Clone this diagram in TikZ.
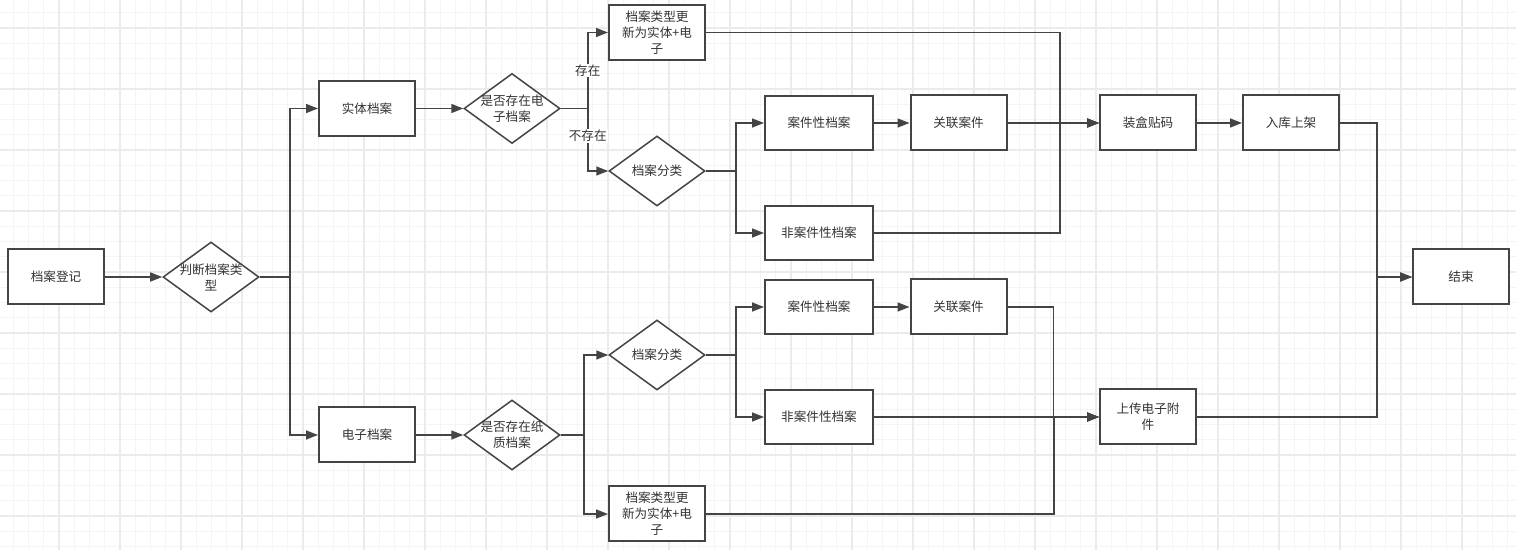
\documentclass[tikz,border=0pt]{standalone}
\usepackage{fontspec}
\setmainfont{Noto Sans CJK SC}
\usetikzlibrary{shapes.geometric,arrows.meta}
\definecolor{ink}{HTML}{444444}
\definecolor{txt}{HTML}{333333}
\definecolor{minorgrid}{HTML}{F4F4F4}
\definecolor{majorgrid}{HTML}{EBEBEB}
\tikzset{
  txtfont/.style={font=\fontsize{6.3}{8}\selectfont,text=txt},
  box/.style={draw=ink,line width=1pt,fill=white,minimum width=48pt,minimum height=27.5pt,inner sep=1pt,align=center,txtfont},
  widebox/.style={box,minimum width=54pt,minimum height=27pt},
  decision/.style={diamond,draw=ink,line width=0.75pt,fill=white,minimum width=48pt,minimum height=35pt,inner sep=0pt},
  dlabel/.style={align=center,txtfont,inner sep=0pt},
  flow/.style={draw=ink,line width=0.75pt,-{Triangle[length=6pt,width=4.5pt]}},
  yn/.style={fill=white,inner sep=0.5pt,txtfont}
}
\begin{document}
\begin{tikzpicture}[x=0.5pt,y=-0.5pt]
\useasboundingbox (0,0) rectangle (1516,550);
\begin{scope}
\clip (0,0) rectangle (1516,550);
\fill[white] (0,0) rectangle (1516,550);
\foreach \i in {0,...,100} \draw[minorgrid,line width=0.6pt] ({-2+15.25*\i},0) -- ++(0,550);
\foreach \i in {0,...,38} \draw[minorgrid,line width=0.6pt] (0,{-33+15.25*\i}) -- ++(1516,0);
\foreach \i in {0,...,25} \draw[majorgrid,line width=0.7pt] ({-2+61*\i},0) -- ++(0,550);
\foreach \i in {0,...,10} \draw[majorgrid,line width=0.7pt] (0,{-33+61*\i}) -- ++(1516,0);
\end{scope}
\node[box] (reg) at (56,277) {档案登记};
\node[decision,label={[dlabel]center:判断档案类\\型}] (judge) at (211,277) {};
\node[box] (phys) at (367,108.5) {实体档案};
\node[decision,label={[dlabel]center:是否存在电\\子档案}] (hasE) at (512,108.5) {};
\node[box] (updT) at (657,32.5) {档案类型更\\新为实体+电\\子};
\node[decision,label={[dlabel]center:档案分类}] (clsT) at (657,171) {};
\node[widebox] (caseT) at (819,123) {案件性档案};
\node[box] (linkT) at (958.5,123) {关联案件};
\node[widebox] (nocaseT) at (819,233) {非案件性档案};
\node[box] (pack) at (1148,123) {装盒贴码};
\node[box] (shelf) at (1291,123) {入库上架};
\node[box] (endn) at (1461,277) {结束};
\node[box] (elec) at (367,435) {电子档案};
\node[decision,label={[dlabel]center:是否存在纸\\质档案}] (hasP) at (512,435) {};
\node[decision,label={[dlabel]center:档案分类}] (clsB) at (657,355) {};
\node[box] (updB) at (657,514) {档案类型更\\新为实体+电\\子};
\node[widebox] (caseB) at (819,307) {案件性档案};
\node[box] (linkB) at (958.5,307) {关联案件};
\node[widebox] (nocaseB) at (819,417) {非案件性档案};
\node[box] (upload) at (1148,417) {上传电子附\\件};

\draw[flow] (reg) -- (judge);
\draw[flow] (judge.east) -- ++(30,0) |- (phys);
\draw[flow] (judge.east) -- ++(30,0) |- (elec);
\draw[flow] (phys) -- (hasE);
\draw[flow] (hasE.east) -- ++(27,0) |- node[yn,pos=0.25] {存在} (updT);
\draw[flow] (hasE.east) -- ++(27,0) |- node[yn,pos=0.22] {不存在} (clsT);
\draw[flow] (clsT.east) -- ++(30,0) |- (caseT);
\draw[flow] (clsT.east) -- ++(30,0) |- (nocaseT);
\draw[flow] (caseT) -- (linkT);
\draw[flow] (linkT) -- (pack);
\draw[flow] (updT.east) -- ++(354,0) |- (pack);
\draw[flow] (nocaseT.east) -- ++(186,0) |- (pack);
\draw[flow] (pack) -- (shelf);
\draw[flow] (shelf.east) -- ++(37,0) |- (endn);
\draw[flow] (upload.east) -- ++(180,0) |- (endn);
\draw[flow] (elec) -- (hasP);
\draw[flow] (hasP.east) -- ++(23,0) |- (clsB);
\draw[flow] (hasP.east) -- ++(23,0) |- (updB);
\draw[flow] (clsB.east) -- ++(30,0) |- (caseB);
\draw[flow] (clsB.east) -- ++(30,0) |- (nocaseB);
\draw[flow] (caseB) -- (linkB);
\draw[flow] (linkB.east) -- ++(46,0) |- (upload);
\draw[flow] (nocaseB) -- (upload);
\draw[flow] (updB.east) -- ++(348,0) |- (upload);
\end{tikzpicture}
\end{document}
